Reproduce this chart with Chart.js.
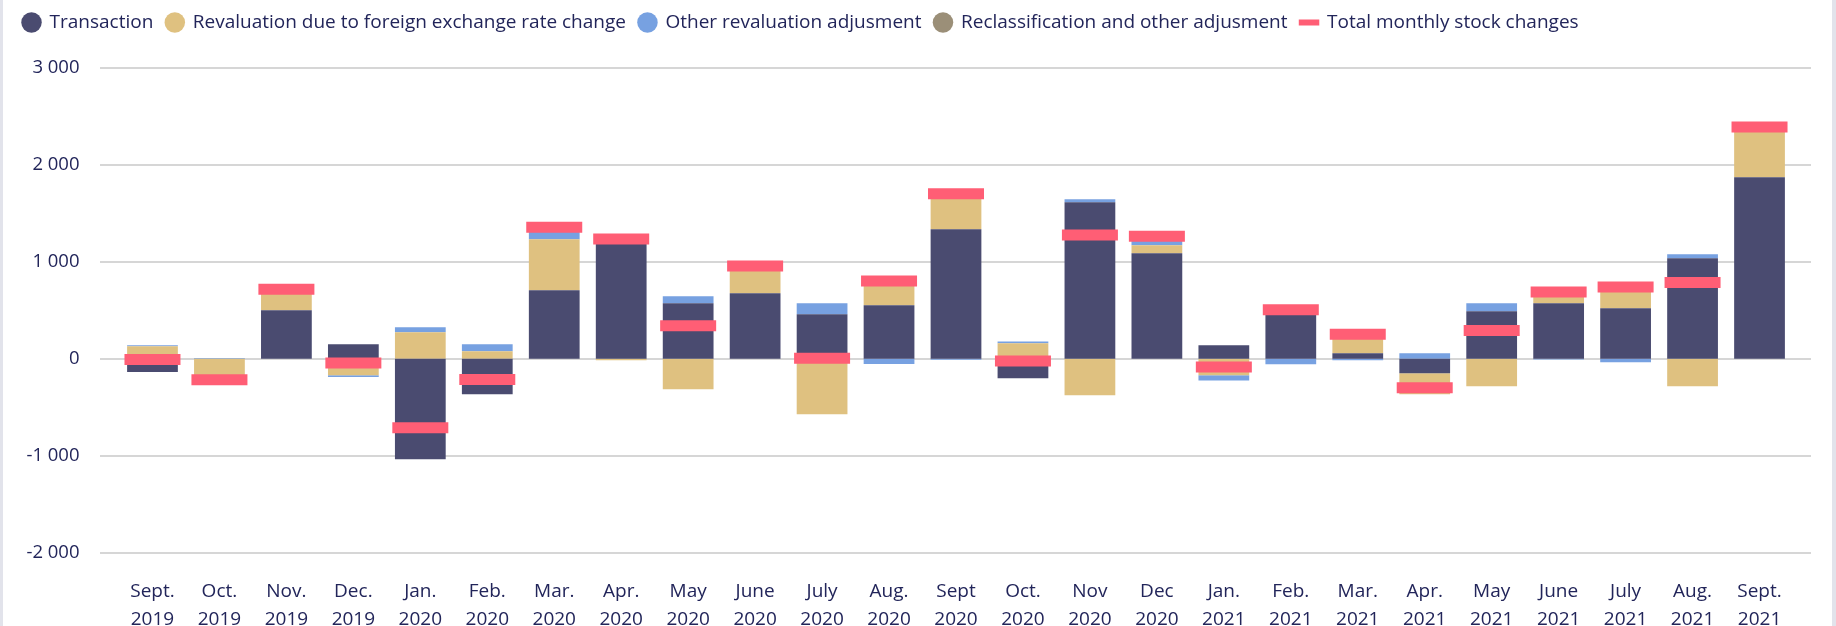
<!DOCTYPE html>
<html>
<head>
<meta charset="utf-8">
<script src="https://cdn.jsdelivr.net/npm/chart.js@4/dist/chart.umd.min.js"></script>
<style>
    html, body { margin: 0; padding: 0; background: #fff; }
    #wrap {
        width: 1836px;
        height: 626px;
        box-sizing: border-box;
        border-left: 3px solid #e2e3eb;
        border-right: 4px solid #e2e3eb;
    }
    canvas { display: block; }
</style>
</head>
<body>
<div id="wrap"><canvas id="c1" width="1829" height="626"></canvas></div>
<script>
const months = [
    ['Sept.', '2019'], ['Oct.', '2019'], ['Nov.', '2019'], ['Dec.', '2019'],
    ['Jan.', '2020'], ['Feb.', '2020'], ['Mar.', '2020'], ['Apr.', '2020'],
    ['May', '2020'], ['June', '2020'], ['July', '2020'], ['Aug.', '2020'],
    ['Sept', '2020'], ['Oct.', '2020'], ['Nov', '2020'], ['Dec', '2020'],
    ['Jan.', '2021'], ['Feb.', '2021'], ['Mar.', '2021'], ['Apr.', '2021'],
    ['May', '2021'], ['June', '2021'], ['July', '2021'], ['Aug.', '2021'],
    ['Sept.', '2021']
];

const transaction = [-137, 0, 498, 148, -1038, -368, 705, 1200, 570, 674, 457, 550, 1333,
    -203, 1612, 1086, 137, 505, 55, -151, 488, 570, 519, 1034, 1869];
const fxRevaluation = [127, -215, 215, -172, 271, 76, 526, -17, -316, 280, -574, 250, 365,
    158, -378, 82, -172, 0, 195, -216, -285, 115, 220, -285, 520];
const otherRevaluation = [10, 8, 0, -17, 52, 72, 124, 0, 72, 0, 113, -55, -12,
    20, 31, 90, -52, -58, -17, 55, 82, -8, -38, 41, 0];
const reclassification = [0, 0, 0, 0, 0, 0, 0, 0, 0, 0, 0, 0, 0,
    0, 0, 0, 0, 0, 0, 0, 0, 0, 0, 0, 0];
const totalChange = [-9, -217, 715, -45, -711, -216, 1354, 1234, 340, 955, 5, 801, 1701,
    -24, 1275, 1261, -85, 505, 251, -300, 289, 687, 739, 784, 2388];

const yTicks = [-2000, -1000, 0, 1000, 2000, 3000];

const textColor = '#22255a';
Chart.defaults.font.family = '"Open Sans", sans-serif';
Chart.defaults.color = textColor;

function fmt(v) {
    const s = String(Math.abs(v)).replace(/\B(?=(\d{3})+(?!\d))/g, ' ');
    return (v < 0 ? '-' : '') + s;
}

// legend takes the whole band above the plot
const legendHeight = {
    id: 'legendHeight',
    beforeInit(chart) {
        const fit = chart.legend.fit;
        chart.legend.fit = function () {
            fit.call(this);
            this.height = 67.6;
        };
    }
};

// horizontal grid a bit wider than the plot area
const gridLines = {
    id: 'gridLines',
    beforeDatasetsDraw(chart) {
        const { ctx, chartArea, scales } = chart;
        const y = scales.y;
        ctx.save();
        ctx.strokeStyle = '#d6d6d6';
        ctx.lineWidth = 2;
        y.ticks.forEach(t => {
            const py = Math.round(y.getPixelForValue(t.value));
            ctx.beginPath();
            ctx.moveTo(chartArea.left - 19, py);
            ctx.lineTo(chartArea.right + 18, py);
            ctx.stroke();
        });
        ctx.restore();
    }
};

function barSet(label, data, color) {
    return {
        type: 'bar',
        label: label,
        data: data,
        backgroundColor: color,
        borderWidth: 0,
        categoryPercentage: 1,
        barPercentage: 0.758,
        order: 0
    };
}

new Chart(document.getElementById('c1'), {
    data: {
        labels: months,
        datasets: [
            barSet('Transaction', transaction, '#4a4b70'),
            barSet('Revaluation due to foreign exchange rate change', fxRevaluation, '#dfc180'),
            barSet('Other revaluation adjusment', otherRevaluation, '#77a1e1'),
            barSet('Reclassification and other adjusment', reclassification, '#9b8f78'),
            {
                type: 'line',
                label: 'Total monthly stock changes',
                data: totalChange,
                showLine: false,
                pointStyle: 'line',
                pointRadius: 28,
                pointHoverRadius: 28,
                pointBorderWidth: 11,
                borderColor: '#ff5e75',
                backgroundColor: '#ff5e75',
                order: -1
            }
        ]
    },
    options: {
        responsive: false,
        animation: false,
        layout: { padding: { left: 7, right: 31, top: 0, bottom: 0 } },
        plugins: {
            tooltip: { enabled: false },
            legend: {
                position: 'top',
                align: 'start',
                labels: {
                    usePointStyle: true,
                    boxWidth: 17,
                    boxHeight: 14.5,
                    padding: 13,
                    color: textColor,
                    font: { size: 19 },
                    sort: (a, b) => a.datasetIndex - b.datasetIndex,
                    generateLabels: function (chart) {
                        const items = Chart.defaults.plugins.legend.labels.generateLabels(chart);
                        items.forEach(it => {
                            if (it.pointStyle === 'line') {
                                it.lineWidth = 6;
                                it.strokeStyle = '#ff5e75';
                            } else {
                                it.lineWidth = 0;
                            }
                        });
                        return items;
                    }
                }
            }
        },
        scales: {
            x: {
                stacked: true,
                grid: { display: false, drawTicks: false },
                border: { display: false },
                ticks: {
                    autoSkip: false,
                    maxRotation: 0,
                    padding: 25,
                    color: textColor,
                    font: { size: 19, lineHeight: 1.47 }
                },
                afterFit: function (scale) { scale.height = 73.3; }
            },
            y: {
                stacked: true,
                min: -2000,
                max: 3000,
                afterBuildTicks: function (scale) {
                    scale.ticks = yTicks.map(v => ({ value: v }));
                },
                grid: { display: false, drawTicks: false },
                border: { display: false },
                ticks: {
                    padding: 39.5,
                    color: textColor,
                    font: { size: 18.5 },
                    callback: function (value) { return fmt(value); }
                },
                afterFit: function (scale) { scale.width = 109; }
            }
        }
    },
    plugins: [legendHeight, gridLines]
});
</script>
</body>
</html>
